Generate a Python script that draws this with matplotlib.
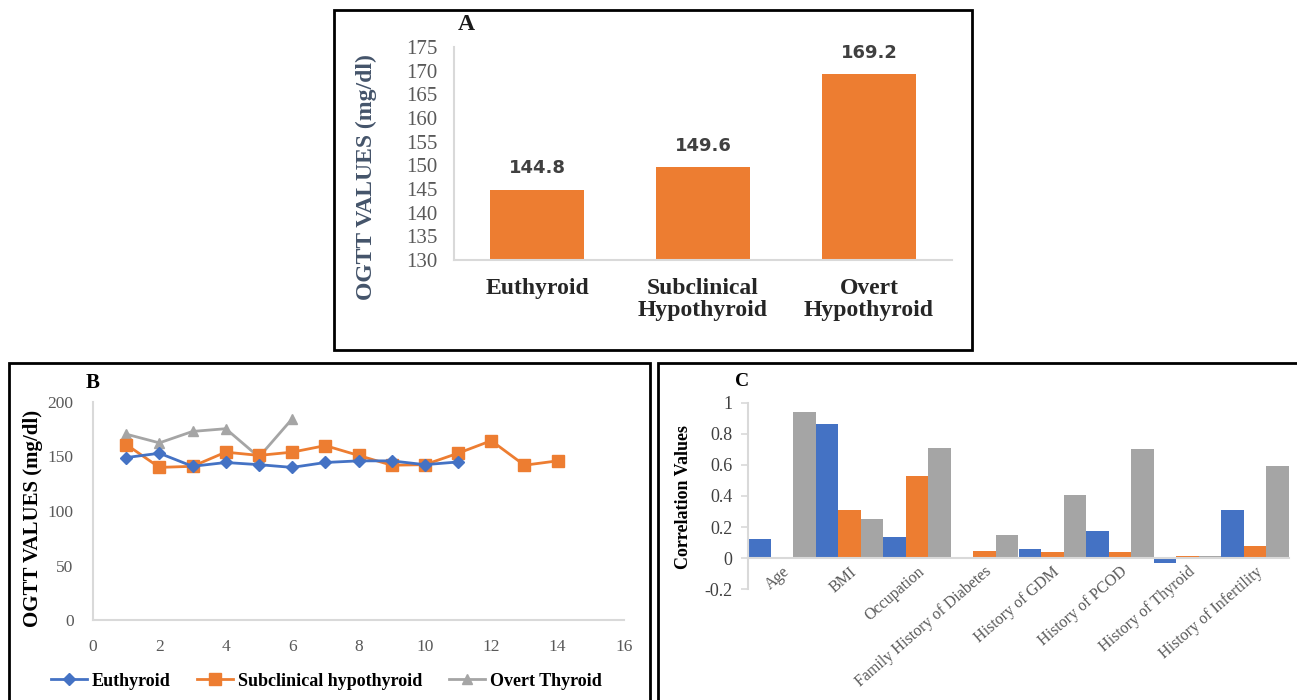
import matplotlib
matplotlib.use("Agg")
import matplotlib.pyplot as plt
from matplotlib.patches import Rectangle
import numpy as np

# ---------------- data ----------------
a_categories = ["Euthyroid", "Subclinical\nHypothyroid", "Overt\nHypothyroid"]
a_values = [144.8, 149.6, 169.2]
a_yticks = [130, 135, 140, 145, 150, 155, 160, 165, 170, 175]

b_x_eu = [1, 2, 3, 4, 5, 6, 7, 8, 9, 10, 11]
b_eu = [149, 153, 141, 144.5, 142.5, 140, 144.5, 146, 146, 142.5, 145]
b_x_sub = [1, 2, 3, 4, 5, 6, 7, 8, 9, 10, 11, 12, 13, 14]
b_sub = [161, 140, 141, 154, 151, 154, 160, 151, 142, 142.5, 153, 164.5, 142, 146]
b_x_ov = [1, 2, 3, 4, 5, 6]
b_ov = [170.5, 162.5, 173, 175.5, 149.5, 184.5]
b_xticks = [0, 2, 4, 6, 8, 10, 12, 14, 16]
b_yticks = [0, 50, 100, 150, 200]
b_series_names = ["Euthyroid", "Subclinical hypothyroid", "Overt Thyroid"]

c_categories = ["Age", "BMI", "Occupation", "Family History of Diabetes",
                "History of GDM", "History of PCOD", "History of Thyroid",
                "History of Infertility"]
c_blue = [0.122, 0.865, 0.135, 0.005, 0.058, 0.178, -0.034, 0.31]
c_orange = [0.005, 0.31, 0.531, 0.049, 0.043, 0.041, 0.017, 0.081]
c_gray = [0.942, 0.25, 0.711, 0.15, 0.409, 0.704, 0.015, 0.593]
c_yticks = [-0.2, 0, 0.2, 0.4, 0.6, 0.8, 1]
c_yticklabels = ["-0.2", "0", "0.2", "0.4", "0.6", "0.8", "1"]

BLUE = "#4472C4"
ORANGE = "#ED7D31"
GRAY = "#A5A5A5"
SPINE = "#D9D9D9"
TICK = "#595959"
SERIF = "Liberation Serif"

W, H = 1297, 700
fig = plt.figure(figsize=(W / 100, H / 100), dpi=100)


def rect(l, t, r, b):
    return [l / W, 1 - b / H, (r - l) / W, (b - t) / H]


def fx(x):
    return x / W


def fy(y):
    return 1 - y / H


# panel boxes
for (l, t, r, b) in [(334, 10, 972, 350), (9, 363, 650, 702), (658, 363, 1299, 702)]:
    fig.patches.append(Rectangle((l / W, 1 - b / H), (r - l) / W, (b - t) / H,
                                 transform=fig.transFigure, fill=False,
                                 edgecolor="black", linewidth=2.0, zorder=10))

# ---------------- Panel A ----------------
axA = fig.add_axes(rect(454, 47, 952, 260))
xa = np.arange(len(a_categories))
axA.bar(xa, a_values, width=0.57, color=ORANGE, zorder=2)
axA.set_xlim(-0.5, 2.5)
axA.set_ylim(130, 175)
axA.set_yticks(a_yticks)
axA.set_xticks(xa)
axA.set_xticklabels(a_categories, fontfamily=SERIF, fontweight="bold",
                    fontsize=17, color="#262626", linespacing=1.05)
for lab in axA.get_yticklabels():
    lab.set_fontfamily(SERIF)
    lab.set_fontsize(15)
    lab.set_color(TICK)
axA.tick_params(axis="both", length=0)
axA.tick_params(axis="x", pad=13)
axA.tick_params(axis="y", pad=12)
for s in ["top", "right"]:
    axA.spines[s].set_visible(False)
for s in ["left", "bottom"]:
    axA.spines[s].set_color(SPINE)
    axA.spines[s].set_linewidth(1.5)
for x, v in zip(xa, a_values):
    axA.annotate(f"{v}", (x, v), xytext=(0, 9), textcoords="offset points",
                 ha="center", va="bottom", fontsize=13, fontweight="bold",
                 family="DejaVu Sans", color="#404040")
fig.text(fx(366), fy(177), "OGTT VALUES (mg/dl)", rotation=90, ha="center",
         va="center", fontsize=17, fontweight="bold", family=SERIF, color="#44546A")
fig.text(fx(466), fy(25), "A", ha="center", va="center", fontsize=17,
         fontweight="bold", family=SERIF, color="#1a1a1a")

# ---------------- Panel B ----------------
axB = fig.add_axes(rect(93, 402, 624, 620))
lb1, = axB.plot(b_x_eu, b_eu, color=BLUE, lw=2.0, marker="D", ms=6, zorder=3)
lb2, = axB.plot(b_x_sub, b_sub, color=ORANGE, lw=2.0, marker="s", ms=8, zorder=2)
lb3, = axB.plot(b_x_ov, b_ov, color=GRAY, lw=2.0, marker="^", ms=7, zorder=1)
axB.set_xlim(0, 16)
axB.set_ylim(0, 200)
axB.set_xticks(b_xticks)
axB.set_yticks(b_yticks)
for lab in axB.get_xticklabels() + axB.get_yticklabels():
    lab.set_fontfamily(SERIF)
    lab.set_fontsize(12.5)
    lab.set_color(TICK)
axB.tick_params(axis="both", length=0)
axB.tick_params(axis="x", pad=14)
axB.tick_params(axis="y", pad=14)
for s in ["top", "right"]:
    axB.spines[s].set_visible(False)
for s in ["left", "bottom"]:
    axB.spines[s].set_color(SPINE)
    axB.spines[s].set_linewidth(1.5)
fig.text(fx(33), fy(518), "OGTT VALUES (mg/dl)", rotation=90, ha="center",
         va="center", fontsize=15, fontweight="bold", family=SERIF, color="black")
fig.text(fx(93), fy(383), "B", ha="center", va="center", fontsize=15,
         fontweight="bold", family=SERIF, color="black")
fig.legend([lb1, lb2, lb3], b_series_names, loc="center",
           bbox_to_anchor=(fx(326), fy(681)), ncol=3, frameon=False,
           prop={"family": SERIF, "weight": "bold", "size": 13},
           handlelength=2.0, handletextpad=0.25, columnspacing=1.5,
           borderaxespad=0, borderpad=0)

# ---------------- Panel C ----------------
axC = fig.add_axes(rect(748, 402.7, 1289, 589.3))
axC.spines["bottom"].set_position(("data", 0))
xc = np.arange(len(c_categories))
bw = 1 / 3
axC.bar(xc - bw, c_blue, width=bw, color=BLUE, zorder=2)
axC.bar(xc, c_orange, width=bw, color=ORANGE, zorder=2)
axC.bar(xc + bw, c_gray, width=bw, color=GRAY, zorder=2)
axC.set_xlim(-0.5, 7.5)
axC.set_ylim(-0.2, 1)
axC.set_yticks(c_yticks)
axC.set_yticklabels(c_yticklabels, fontfamily=SERIF, fontsize=13, color="#404040")
axC.set_xticks(xc)
axC.set_xticklabels(c_categories, fontfamily=SERIF, fontsize=11.5, color=TICK,
                    rotation=41, ha="right", va="top", rotation_mode="anchor")
for s in ["top", "right"]:
    axC.spines[s].set_visible(False)
for s in ["left", "bottom"]:
    axC.spines[s].set_color(SPINE)
    axC.spines[s].set_linewidth(1.5)
axC.spines["bottom"].set_zorder(3)
axC.tick_params(axis="x", length=0, pad=4)
axC.tick_params(axis="y", length=5, width=1.2, color=SPINE, pad=6)
fig.text(fx(684), fy(497), "Correlation Values", rotation=90, ha="center",
         va="center", fontsize=13, fontweight="bold", family=SERIF, color="black")
fig.text(fx(742), fy(381), "C", ha="center", va="center", fontsize=14,
         fontweight="bold", family=SERIF, color="black")

fig.savefig("out.png", dpi=100)
